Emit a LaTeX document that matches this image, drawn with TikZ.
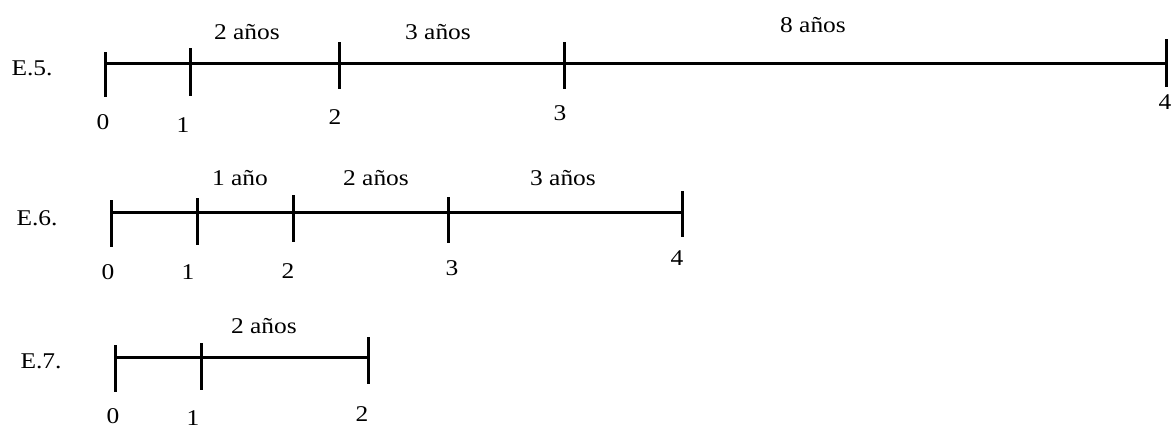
\documentclass[tikz,border=0pt]{standalone}
\usepackage{fontspec}
\setmainfont{Liberation Serif}[FakeStretch=1.13]
\begin{document}
\begin{tikzpicture}[x=1pt,y=-1pt,
  txt/.style={font=\fontsize{22.5}{26}\selectfont, inner sep=0pt},
  lbl/.style={txt, anchor=base},
  num/.style={txt, anchor=center},
  axis/.style={line width=3pt, black},
  tick/.style={line width=3pt, black}]
\useasboundingbox (0,0) rectangle (1174,429);

% ---------- E.5 ----------
\node[lbl] (e5) at (32,75) {E.5.};
\foreach \n/\x/\a/\b in {0/105/52/97, 1/190/48/96, 2/339/42/89, 3/564/42/89, 4/1166/39/87}{
  \coordinate (a\n t) at (\x,\a);
  \coordinate (a\n b) at (\x,\b);
  \coordinate (a\n) at (\x,63);
}
\draw[axis] (a0) -- (a4);
\foreach \n in {0,...,4}{ \draw[tick] (a\n t) -- (a\n b); }
\node[num] (a0l) at (103,122) {0};
\node[num] (a1l) at (183,125) {1};
\node[num] (a2l) at (335,117) {2};
\node[num] (a3l) at (560,113) {3};
\node[num] (a4l) at (1165,102) {4};
\node[lbl] (a12) at (247,39) {2 años};
\node[lbl] (a23) at (438,39) {3 años};
\node[lbl] (a34) at (813,32) {8 años};

% ---------- E.6 ----------
\node[lbl] (e6) at (37,225) {E.6.};
\foreach \n/\x/\a/\b in {0/111/200/247, 1/197/198/245, 2/293/195/242, 3/448/197/243, 4/682/191/237}{
  \coordinate (b\n t) at (\x,\a);
  \coordinate (b\n b) at (\x,\b);
  \coordinate (b\n) at (\x,212);
}
\draw[axis] (b0) -- (b4);
\foreach \n in {0,...,4}{ \draw[tick] (b\n t) -- (b\n b); }
\node[num] (b0l) at (108,272) {0};
\node[num] (b1l) at (188,272) {1};
\node[num] (b2l) at (288,271) {2};
\node[num] (b3l) at (452,268) {3};
\node[num] (b4l) at (677,258) {4};
\node[lbl] (b12) at (240,185) {1 año};
\node[lbl] (b23) at (376,185) {2 años};
\node[lbl] (b34) at (563,185) {3 años};

% ---------- E.7 ----------
\node[lbl] (e7) at (41,368) {E.7.};
\foreach \n/\x/\a/\b in {0/115/345/392, 1/201/343/390, 2/368/337/384}{
  \coordinate (c\n t) at (\x,\a);
  \coordinate (c\n b) at (\x,\b);
  \coordinate (c\n) at (\x,357);
}
\draw[axis] (c0) -- (c2);
\foreach \n in {0,...,2}{ \draw[tick] (c\n t) -- (c\n b); }
\node[num] (c0l) at (113,416) {0};
\node[num] (c1l) at (193,418) {1};
\node[num] (c2l) at (362,414) {2};
\node[lbl] (c12) at (264,333) {2 años};
\end{tikzpicture}
\end{document}
